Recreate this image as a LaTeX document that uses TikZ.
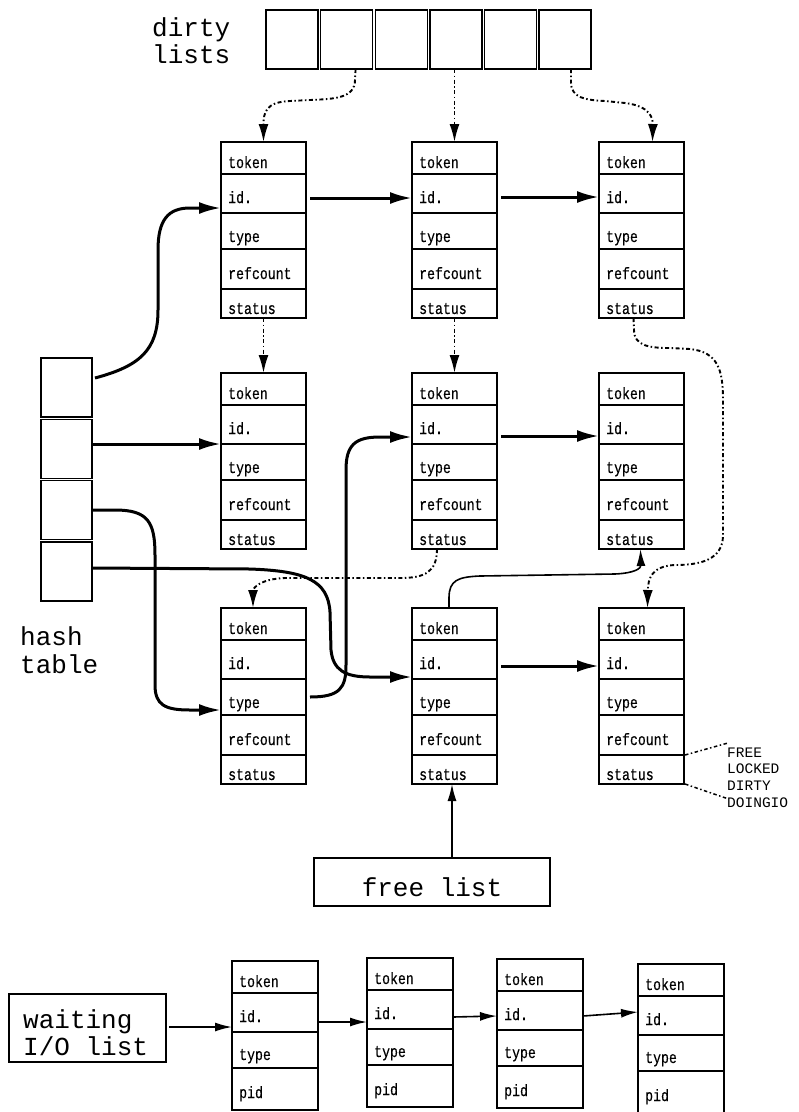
\documentclass[tikz,border=0pt]{standalone}
\usepackage{fontspec}
\usetikzlibrary{arrows.meta,calc}
\newfontfamily\monofont{Liberation Mono}
\newfontfamily\fieldfont[FakeStretch=0.8,FakeBold=0.4]{Liberation Mono}
\newcommand\lblsize{\fontsize{26}{27}\selectfont}
\newcommand\multiline[2]{\vtop{\baselineskip=#1 #2}}

\tikzset{
  fld/.style={draw, line width=1.4pt, minimum width=85pt, inner sep=0pt, outer sep=0pt, anchor=north west},
  ftxt/.style={anchor=base west, inner sep=0pt, font=\fieldfont\fontsize{16.5}{16.5}\selectfont},
  box/.style={draw, line width=1.4pt, inner sep=0pt, outer sep=0pt},
  lbl/.style={anchor=base west, inner sep=0pt, font=\monofont\lblsize},
  thickarrow/.style={line width=3pt, line join=round, -{Latex[length=22pt,width=12pt]}},
  dotarrow/.style={line width=1.9pt, dash pattern=on 4pt off 2.5pt on 1.5pt off 2.5pt, -{Latex[length=18pt,width=10pt]}},
  dotline/.style={line width=1.5pt, dash pattern=on 3.5pt off 2.5pt on 1.5pt off 2.5pt},
  thinarrow/.style={line width=1.6pt, -{Latex[length=17pt,width=9pt]}}
}

\newcommand\record[3]{%
  \node[fld, minimum height=32pt] (#1-token) at (#2,#3) {};
  \node[fld, minimum height=39pt] (#1-id) at (#1-token.south west) {};
  \node[fld, minimum height=36pt] (#1-type) at (#1-id.south west) {};
  \node[fld, minimum height=40pt] (#1-refcount) at (#1-type.south west) {};
  \node[fld, minimum height=29pt] (#1-status) at (#1-refcount.south west) {};
  \node[ftxt] (#1-token-t) at ([xshift=7pt,yshift=6pt]#1-token.south west) {token};
  \node[ftxt] (#1-id-t) at ([xshift=7pt,yshift=10pt]#1-id.south west) {id.};
  \node[ftxt] (#1-type-t) at ([xshift=7pt,yshift=7pt]#1-type.south west) {type};
  \node[ftxt] (#1-refcount-t) at ([xshift=7pt,yshift=10pt]#1-refcount.south west) {refcount};
  \node[ftxt] (#1-status-t) at ([xshift=7pt,yshift=4pt]#1-status.south west) {status};
}
\newcommand\wrecord[3]{%
  \node[fld, minimum width=86pt, minimum height=32pt] (#1-token) at (#2,#3) {};
  \node[fld, minimum width=86pt, minimum height=39pt] (#1-id) at (#1-token.south west) {};
  \node[fld, minimum width=86pt, minimum height=36pt] (#1-type) at (#1-id.south west) {};
  \node[fld, minimum width=86pt, minimum height=42pt] (#1-pid) at (#1-type.south west) {};
  \node[ftxt] (#1-token-t) at ([xshift=7pt,yshift=6pt]#1-token.south west) {token};
  \node[ftxt] (#1-id-t) at ([xshift=7pt,yshift=10pt]#1-id.south west) {id.};
  \node[ftxt] (#1-type-t) at ([xshift=7pt,yshift=8pt]#1-type.south west) {type};
  \node[ftxt] (#1-pid-t) at ([xshift=7pt,yshift=12pt]#1-pid.south west) {pid};
}

\begin{document}
\begin{tikzpicture}[x=1pt,y=-1pt]
\fill[white] (0,0) rectangle (799,1112);
\useasboundingbox (0,0) rectangle (799,1112);

% dirty lists
\node[lbl] (dirtylbl) at (152,36) {\multiline{27pt}{\hbox{dirty}\hbox{lists}}};
\foreach \i in {1,...,6} {
  \node[box, minimum width=52pt, minimum height=59pt, anchor=north west] (dl\i) at ({266+54.6*(\i-1)},10) {};
}

% hash table
\foreach \i in {1,...,4} {
  \node[box, minimum width=51pt, minimum height=59pt, anchor=north west] (hb\i) at (41,{358+61.3*(\i-1)}) {};
}
\node[lbl] (hashlbl) at (20,645) {\multiline{28pt}{\hbox{hash}\hbox{table}}};

% records
\record{r11}{221}{142}
\record{r12}{412}{142}
\record{r13}{599}{142}
\record{r21}{221}{373}
\record{r22}{412}{373}
\record{r23}{599}{373}
\record{r31}{221}{608}
\record{r32}{412}{608}
\record{r33}{599}{608}

% free list
\node[box, minimum width=236pt, minimum height=48pt, text height=28pt, text depth=0pt, font=\monofont\lblsize] (freebox) at (432,882) {free list};

% states
\node[anchor=base west, inner sep=0pt, font=\monofont\fontsize{14.5}{14.5}\selectfont] (states) at (727,757)
  {\multiline{16.7pt}{\hbox{FREE}\hbox{LOCKED}\hbox{DIRTY}\hbox{DOINGIO}}};

% waiting I/O list
\node[box, minimum width=157pt, minimum height=68pt, anchor=north west] (waitbox) at (9,994) {};
\node[lbl] (waitlbl) at (23,1028) {\multiline{27pt}{\hbox{waiting}\hbox{I/O list}}};
\wrecord{w1}{232}{961}
\wrecord{w2}{367}{958}
\wrecord{w3}{497}{959}
\wrecord{w4}{638}{964}

% dirty list pointers
\draw[dotarrow] ([xshift=9pt]dl2.south) -- (355,80) .. controls (355,98) and (335,99) .. (310,100) -- (290,101) .. controls (266,102) and (263.5,112) .. (r11-token.north);
\draw[dotarrow] (r12-token.north |- dl4.south) -- (r12-token.north);
\draw[dotarrow] ([xshift=6pt]dl6.south) -- (571,82) .. controls (571,98) and (585,100) .. (605,101) -- (625,103) .. controls (650,106) and (653,118) .. ([xshift=11pt]r13-token.north);

% dirty chains
\draw[dotarrow] (r11-status.south) -- (r21-token.north);
\draw[dotarrow] (r12-status.south) -- (r22-token.north);
\draw[dotarrow] ([xshift=-8pt]r13-status.south) -- (634,330) .. controls (634,346) and (650,348) .. (670,348) -- (690,349) .. controls (718,352) and (723,370) .. (723,400) -- (723,535) .. controls (723,560) and (700,565) .. (675,565) .. controls (652,566) and (648,578) .. ([xshift=6pt]r33-token.north);
\draw[dotarrow] ([xshift=-17.5pt]r22-status.south) .. controls (437,572) and (425,578) .. (400,578) -- (285,578) .. controls (260,579) and (253,588) .. ([xshift=-10.5pt]r31-token.north);

% free chain
\draw[thinarrow] ([xshift=-5.5pt]r32-token.north) -- (449,598) .. controls (449,580) and (458,577) .. (480,576) -- (615,574) .. controls (636,573) and (641,568) .. ([xshift=-1pt]r23-status.south);
\draw[thinarrow] ([xshift=20pt]freebox.north) -- ([xshift=20pt]freebox.north |- r32-status.south);

% hash chains
\draw[thickarrow] ([xshift=3pt,yshift=9.5pt]hb1.east) .. controls (140,366) and (158,350) .. (158,310) -- (158,250) .. controls (158,220) and (168,208) .. (190,208) -- ([yshift=-14.5pt]r11-id.west);
\draw[thickarrow] (hb2.east |- r21-id.south west) -- (r21-id.south west);
\draw[thickarrow] (hb3.east) -- (115,510) .. controls (148,510) and (155,522) .. (155,555) -- (155,685) .. controls (155,705) and (165,710) .. (190,710) -- ([yshift=-13pt]r31-type.west);
\draw[thickarrow] ([yshift=3.4pt]hb4.east) -- (250,569) .. controls (305,571) and (328,580) .. (330,612) -- (331,650) .. controls (333,670) and (345,677) .. (370,677) -- ([yshift=-17.5pt]r32-id.west);
\draw[thickarrow] ([xshift=4pt]r31-type.east) .. controls (340,697) and (346,688) .. (346,665) -- (346,470) .. controls (346,445) and (355,437) .. (380,437) -- ([yshift=-12.5pt]r22-id.west);

\draw[thickarrow] ([xshift=4pt,yshift=-4.5pt]r11-id.east) -- ([yshift=-4.5pt]r12-id.west);
\draw[thickarrow] ([xshift=4pt,yshift=-3.5pt]r12-id.east) -- ([yshift=-3.5pt]r13-id.west);
\draw[thickarrow] ([xshift=4pt,yshift=-11.5pt]r22-id.east) -- ([yshift=-11.5pt]r23-id.west);
\draw[thickarrow] ([xshift=4pt,yshift=-6.5pt]r32-id.east) -- ([yshift=-6.5pt]r33-id.west);

% status values
\draw[dotline] ([xshift=1pt]r33-status.north east) -- ([yshift=4pt]states.north west);
\draw[dotline] ([xshift=1pt]r33-status.south east) -- ([yshift=9pt]states.south west);

% waiting chain
\draw[thinarrow] ([xshift=3pt,yshift=1pt]waitbox.east) -- ([yshift=-14.5pt]w1-id.west);
\draw[thinarrow] ([yshift=-9.5pt]w1-id.east) -- ([yshift=-12.5pt]w2-id.west);
\draw[thinarrow] ([yshift=-7.5pt]w2-id.east) -- ([yshift=-5.5pt]w3-id.west);
\draw[thinarrow] ([yshift=-5.5pt]w3-id.east) -- ([yshift=3.5pt]w4-id.west);
\end{tikzpicture}
\end{document}
